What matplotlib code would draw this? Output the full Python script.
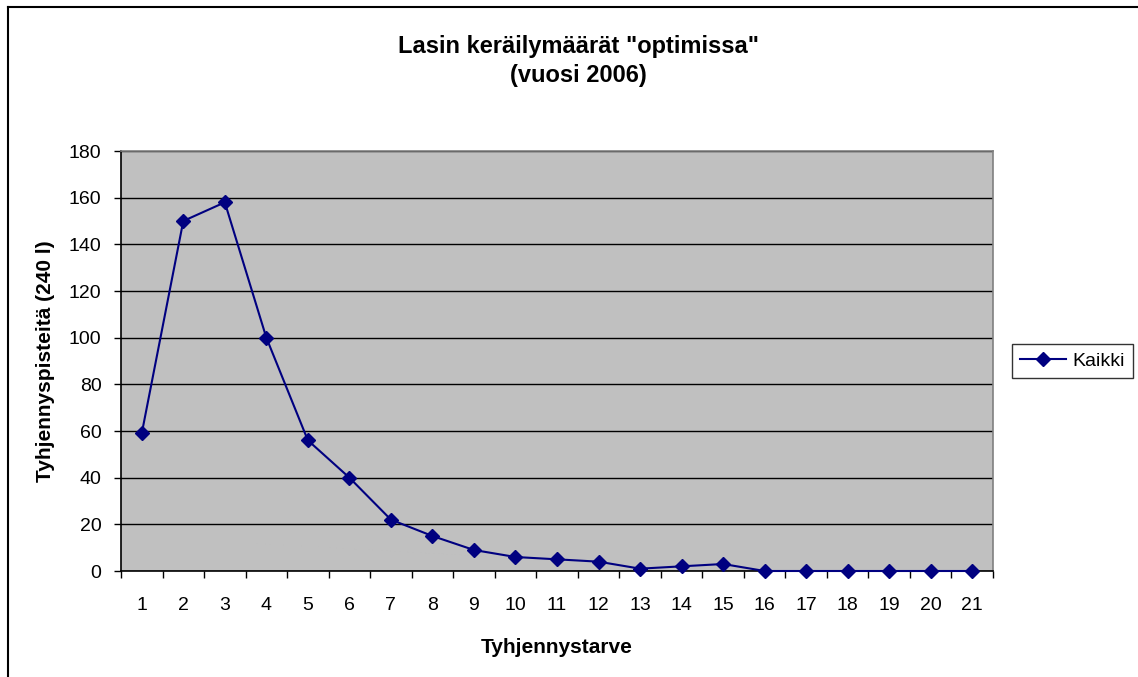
import matplotlib
matplotlib.use("Agg")
import matplotlib.pyplot as plt
from matplotlib.lines import Line2D
from matplotlib.ticker import FixedLocator, MultipleLocator

categories = [str(i) for i in range(1, 22)]
values = [59, 150, 158, 100, 56, 40, 22, 15, 9, 6, 5, 4, 1, 2, 3, 0, 0, 0, 0, 0, 0]
series_name = "Kaikki"
title = 'Lasin keräilymäärät "optimissa"\n(vuosi 2006)'
xlabel = "Tyhjennystarve"
ylabel = "Tyhjennyspisteitä (240 l)"

plt.rcParams['font.family'] = ['Liberation Sans', 'DejaVu Sans']

W, H = 1138, 677
fig = plt.figure(figsize=(W / 100, H / 100), dpi=100)
fig.patch.set_facecolor('white')

# plot area in pixels
L, R, T, B = 121, 993, 151, 571
ax = fig.add_axes([L / W, 1 - B / H, (R - L) / W, (B - T) / H])
ax.set_facecolor('#C0C0C0')

x = list(range(1, len(categories) + 1))
ax.plot(x, values, color='#000080', lw=1.5, marker='D', markersize=7,
        markerfacecolor='#000080', markeredgecolor='#000080', label=series_name,
        zorder=3, clip_on=False)

ax.set_xlim(0.5, len(categories) + 0.5)
ax.set_ylim(0, 180)
ax.yaxis.set_major_locator(MultipleLocator(20))
ax.grid(axis='y', color='black', lw=1.0)
ax.set_axisbelow(True)

ax.set_xticks(x)
ax.set_xticklabels(categories)
ax.xaxis.set_minor_locator(FixedLocator([i + 0.5 for i in range(0, len(categories) + 1)]))
ax.tick_params(axis='x', which='major', length=0, pad=19, labelsize=14)
ax.tick_params(axis='x', which='minor', length=5, width=1, direction='out', color='black')
ax.tick_params(axis='y', which='major', length=5, width=1, direction='out', labelsize=14, pad=9)

for s in ['top', 'right']:
    ax.spines[s].set_color('#808080')
    ax.spines[s].set_linewidth(1.2)
for s in ['left', 'bottom']:
    ax.spines[s].set_color('black')
    ax.spines[s].set_linewidth(1.2)

ax.set_xlabel(xlabel, fontsize=15, fontweight='bold', labelpad=17)
ax.set_ylabel(ylabel, fontsize=15, fontweight='bold', labelpad=10)

fig.text(578 / W, 1 - 61 / H, title, ha='center', va='center', fontsize=17,
         fontweight='bold', linespacing=1.38)

leg = ax.legend(loc='center left', bbox_to_anchor=((1012 - L) / (R - L), 0.5),
                frameon=True, fancybox=False, edgecolor='black', fontsize=14,
                handlelength=2.4, handletextpad=0.3, borderpad=0.4, borderaxespad=0)
leg.get_frame().set_linewidth(1.0)

# chart border (top and left visible)
fig.add_artist(Line2D([8 / W, 8 / W], [0, 1 - 7 / H], transform=fig.transFigure, color='black', lw=1.5))
fig.add_artist(Line2D([8 / W, 1], [1 - 7 / H, 1 - 7 / H], transform=fig.transFigure, color='black', lw=1.5))

fig.savefig('out.png', dpi=100)
